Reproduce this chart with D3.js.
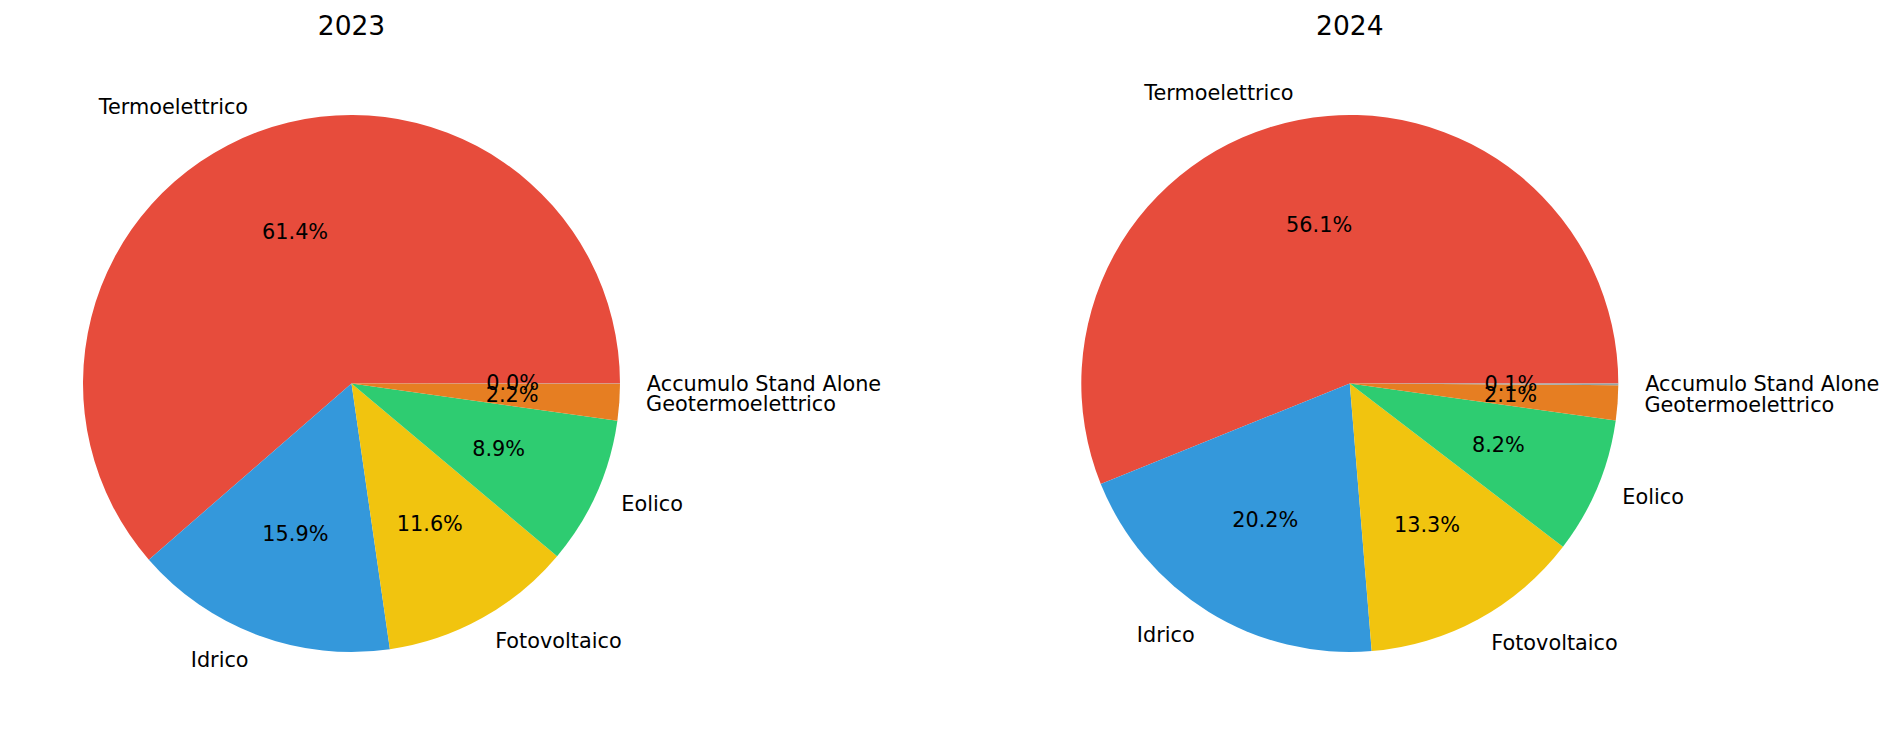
<!DOCTYPE html>
<html>
<head>
<meta charset="utf-8">
<script src="https://cdn.jsdelivr.net/npm/d3@7"></script>
<style>
  body { margin: 0; background: #fff; }
  svg { display: block; font-family: "DejaVu Sans", sans-serif; }
</style>
</head>
<body>
<svg width="1894" height="735"></svg>
<script>
// data
var years = ["2023", "2024"];
var categories = ["Termoelettrico", "Idrico", "Fotovoltaico", "Eolico", "Geotermoelettrico", "Accumulo Stand Alone"];
var values2023 = [61.4, 15.9, 11.6, 8.9, 2.2, 0.02];
var values2024 = [56.1, 20.2, 13.3, 8.2, 2.1, 0.1];
var sliceColors = ["#e74c3c", "#3498db", "#f1c40f", "#2ecc71", "#e67e22", "#95a5a6"];

var series = [values2023, values2024];

var svg = d3.select("svg"),
    radius = 268.5,
    cy = 383.5,
    fontSize = 20.8;

svg.append("rect").attr("width", 1894).attr("height", 735).attr("fill", "#fff");

var cx = d3.scalePoint()
    .domain(years)
    .range([351.5, 1349.8]);

var color = d3.scaleOrdinal()
    .domain(categories)
    .range(sliceColors);

// matplotlib style: start at 3 o'clock, go counter-clockwise
var pie = d3.pie()
    .sort(null)
    .value(function (d) { return d.value; })
    .startAngle(Math.PI / 2)
    .endAngle(Math.PI / 2 - 2 * Math.PI);

var arc = d3.arc().innerRadius(0).outerRadius(radius);
var labelArc = d3.arc().innerRadius(radius * 1.1).outerRadius(radius * 1.1);
var pctArc = d3.arc().innerRadius(radius * 0.6).outerRadius(radius * 0.6);

years.forEach(function (year, i) {
  var rows = categories.map(function (c, j) {
    return {name: c, value: series[i][j]};
  });
  var total = d3.sum(rows, function (d) { return d.value; });
  var arcs = pie(rows);

  var g = svg.append("g")
      .attr("transform", "translate(" + cx(year) + "," + cy + ")");

  g.selectAll("path.slice")
    .data(arcs)
    .enter().append("path")
      .attr("class", "slice")
      .attr("d", arc)
      .attr("fill", function (d) { return color(d.data.name); });

  // outer category labels
  g.selectAll("text.label")
    .data(arcs)
    .enter().append("text")
      .attr("class", "label")
      .attr("transform", function (d) { return "translate(" + labelArc.centroid(d) + ")"; })
      .attr("dy", "0.33em")
      .attr("text-anchor", function (d) { return labelArc.centroid(d)[0] > 0 ? "start" : "end"; })
      .attr("font-size", fontSize)
      .attr("fill", "#000")
      .text(function (d) { return d.data.name; });

  // percentages inside (they overlap on the tiny slices, as in the original)
  g.selectAll("text.pct")
    .data(arcs)
    .enter().append("text")
      .attr("class", "pct")
      .attr("transform", function (d) { return "translate(" + pctArc.centroid(d) + ")"; })
      .attr("dy", "0.33em")
      .attr("text-anchor", "middle")
      .attr("font-size", fontSize)
      .attr("fill", "#000")
      .text(function (d) { return (d.data.value / total * 100).toFixed(1) + "%"; });

  svg.append("text")
      .attr("x", cx(year))
      .attr("y", 35)
      .attr("text-anchor", "middle")
      .attr("font-size", 26.5)
      .attr("fill", "#000")
      .text(year);
});
</script>
</body>
</html>
